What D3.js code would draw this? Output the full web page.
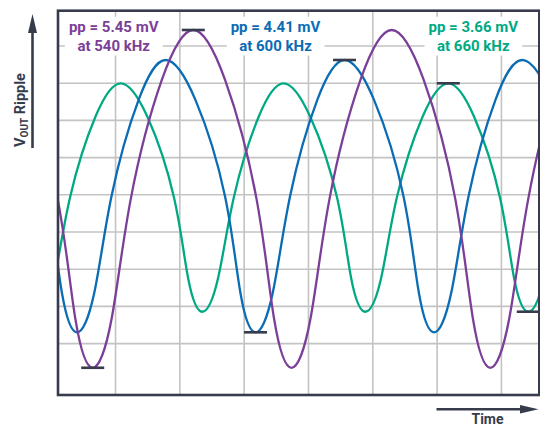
<!DOCTYPE html>
<html><head><meta charset="utf-8">
<script src="https://cdn.jsdelivr.net/npm/d3@7"></script>
<style>
body{margin:0;background:#fff}
svg{display:block}
text{font-family:Roboto,"Open Sans",sans-serif;font-weight:700}
</style>
</head><body>
<svg id="chart" width="540" height="427"></svg>
<script>
// ---- data (time in µs, ripple in mV) ----
const seriesFreq = ["540 kHz", "600 kHz", "660 kHz"];
const seriesPP = ["5.45 mV", "4.41 mV", "3.66 mV"];
const gridTimes = [0, 0.6, 1.2, 1.8, 2.4, 3.0, 3.6];
const gridVolts = [-2.4, -1.8, -1.2, -0.6, 0, 0.6, 1.2, 1.8, 2.4];

const purpleTime = [-1.124, -0.839, -0.535, -0.371, -0.208, -0.031, 0.147, 0.438, 0.730, 1.025, 1.320, 1.483, 1.647,
  1.824, 2.001, 2.291, 2.581, 2.878, 3.174, 3.338, 3.501, 3.678, 3.855, 4.144, 4.431];
const purpleVolt = [2.650, 1.852, -0.074, -2.000, -2.798, -2.000, -0.074, 1.852, 2.650, 1.852, -0.074, -2.000, -2.798,
  -2.000, -0.074, 1.852, 2.650, 1.852, -0.074, -2.000, -2.798, -2.000, -0.074, 1.852, 2.650];

const blueTime = [-1.190, -0.914, -0.639, -0.496, -0.355, -0.193, -0.033, 0.220, 0.473, 0.750, 1.026, 1.169, 1.311,
  1.472, 1.633, 1.887, 2.141, 2.416, 2.691, 2.834, 2.976, 3.137, 3.298, 3.549, 3.799, 4.078, 4.356, 4.498, 4.640];
const blueVolt = [2.166, 1.523, -0.031, -1.584, -2.226, -1.584, -0.031, 1.523, 2.166, 1.523, -0.031, -1.584, -2.226,
  -1.584, -0.031, 1.523, 2.166, 1.523, -0.031, -1.584, -2.226, -1.584, -0.031, 1.523, 2.166, 1.523, -0.031, -1.584, -2.226];

const greenTime = [-1.474, -1.226, -0.978, -0.846, -0.714, -0.567, -0.420, -0.183, 0.053, 0.302, 0.550, 0.682, 0.814,
  0.961, 1.108, 1.340, 1.572, 1.821, 2.071, 2.203, 2.335, 2.482, 2.629, 2.869, 3.109, 3.350, 3.591, 3.723, 3.855,
  4.002, 4.149, 4.393, 4.636];
const greenVolt = [1.790, 1.251, -0.052, -1.354, -1.894, -1.354, -0.052, 1.251, 1.790, 1.251, -0.052, -1.354, -1.894,
  -1.354, -0.052, 1.251, 1.790, 1.251, -0.052, -1.354, -1.894, -1.354, -0.052, 1.251, 1.790, 1.251, -0.052, -1.354, -1.894,
  -1.354, -0.052, 1.251, 1.790];

// peak / trough markers
const markerTime = [-0.208, 0.730, 1.311, 2.141, 3.109, 3.855];
const markerVolt = [-2.798, 2.650, -2.226, 2.166, 1.790, -1.894];

// ---- layout & style ----
const colors = ["#7b3f98", "#0a6cb4", "#00a982"];
const ink = "#363c4c";
const svg = d3.select("#chart");
const L = 58, R = 539.3, T = 10.7, B = 395;

const x = d3.scaleLinear().domain([-0.532, 3.958]).range([L, R]);
const y = d3.scaleLinear().domain([-3.237, 2.961]).range([B, T]);

// grid via axes
svg.append("g").attr("transform", `translate(0,${B})`)
  .call(d3.axisBottom(x).tickValues(gridTimes).tickSize(-(B - T)).tickFormat(""))
  .call(g => g.select(".domain").remove())
  .call(g => g.selectAll("line").attr("stroke", "#c3c3c3").attr("stroke-width", 1.6));
svg.append("g").attr("transform", `translate(${L},0)`)
  .call(d3.axisLeft(y).tickValues(gridVolts).tickSize(-(R - L)).tickFormat(""))
  .call(g => g.select(".domain").remove())
  .call(g => g.selectAll("line").attr("stroke", "#c3c3c3").attr("stroke-width", 1.6));

svg.append("clipPath").attr("id", "plotclip")
  .append("rect").attr("x", L).attr("y", T).attr("width", R - L).attr("height", B - T);

const line = d3.line().x(d => x(d[0])).y(d => y(d[1])).curve(d3.curveNatural);
const series = [
  d3.zip(purpleTime, purpleVolt),
  d3.zip(blueTime, blueVolt),
  d3.zip(greenTime, greenVolt)
];
const plot = svg.append("g").attr("clip-path", "url(#plotclip)");
// draw order: green, blue, purple
[2, 1, 0].forEach(i => {
  plot.append("path").datum(series[i]).attr("d", line)
    .attr("fill", "none").attr("stroke", colors[i]).attr("stroke-width", 2.3);
});

// markers
svg.append("g").selectAll("line").data(d3.zip(markerTime, markerVolt)).join("line")
  .attr("x1", d => x(d[0]) - 11.5).attr("x2", d => Math.min(R, x(d[0]) + 11.5))
  .attr("y1", d => y(d[1])).attr("y2", d => y(d[1]))
  .attr("stroke", ink).attr("stroke-width", 2.6);

// frame
svg.append("rect").attr("x", L).attr("y", T).attr("width", R - L).attr("height", B - T)
  .attr("fill", "none").attr("stroke", ink).attr("stroke-width", 2.6);

// labels with white boxes
const labelX = [113.7, 275.5, 473.3];
seriesFreq.forEach((f, i) => {
  const g = svg.append("g");
  const t = g.append("text").attr("text-anchor", "middle").attr("fill", colors[i]).attr("font-size", 15);
  t.append("tspan").attr("x", labelX[i]).attr("y", 31.7).text("pp = " + seriesPP[i]);
  t.append("tspan").attr("x", labelX[i]).attr("y", 50.5).text("at " + f);
  const bb = t.node().getBBox();
  g.insert("rect", "text").attr("x", bb.x - 4).attr("y", bb.y - 1).attr("width", bb.width + 8).attr("height", bb.height + 2).attr("fill", "#fff");
});

// y axis title and arrow
const yl = svg.append("text").attr("transform", "translate(25,147) rotate(-90)")
  .attr("fill", ink).attr("font-size", 14.5);
yl.append("tspan").text("V");
yl.append("tspan").attr("font-size", 10).attr("dy", 3).text("OUT");
yl.append("tspan").attr("dy", -3).text(" Ripple");

svg.append("line").attr("x1", 32.5).attr("x2", 32.5).attr("y1", 148).attr("y2", 30)
  .attr("stroke", ink).attr("stroke-width", 2.6);
svg.append("path").attr("d", "M32.5,14L37,33L28,33Z").attr("fill", ink);

// x axis title and arrow
svg.append("line").attr("x1", 436.5).attr("x2", 522).attr("y1", 409.3).attr("y2", 409.3)
  .attr("stroke", ink).attr("stroke-width", 2.6);
svg.append("path").attr("d", "M538.5,409.3L520,405L520,413.6Z").attr("fill", ink);
svg.append("text").attr("x", 487.5).attr("y", 423.5).attr("text-anchor", "middle")
  .attr("fill", ink).attr("font-size", 14).text("Time");
</script>
</body></html>
